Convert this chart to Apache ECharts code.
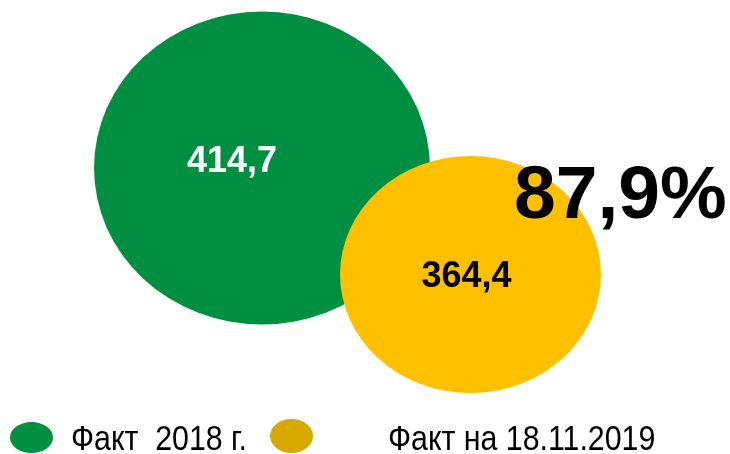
<!DOCTYPE html>
<html>
<head>
<meta charset="utf-8">
<script src="https://cdn.jsdelivr.net/npm/echarts@6/dist/echarts.min.js"></script>
<style>html,body{margin:0;padding:0;background:#fff}#c{width:730px;height:454px}</style>
</head>
<body>
<div id="c"></div>
<script>
// ---- data ----
const seriesNames = ['Факт  2018 г.', 'Факт на 18.11.2019'];
const values = [414.7, 364.4];

// ---- layout / style (not data) ----
const bubbleColors = ['#008F41', '#FFC000'];
const legendColors = ['#008F41', '#D6A800'];
const labelColors = ['#ffffff', '#000000'];
const bubbleCenters = [[262, 168], [470.5, 274.5]];
const bubbleSizes = [[336, 313], [261, 237]];
const labelOffsets = [[-30, -6], [-4, 3]];
const legendBoxes = [{left: 10, top: 422, h: 31}, {left: 270, top: 419, h: 34}];
const legendTextPos = [[71, 440], [388, 440]];

const ELLIPSE = 'path://M0,1A1,1 0 1,1 2,1A1,1 0 1,1 0,1Z';
const fmt = v => v.toFixed(1).replace('.', ',');
const pct = fmt(values[1] / values[0] * 100) + '%';
const SANS = '"Liberation Sans",Arial,sans-serif';

const chart = echarts.init(document.getElementById('c'));
chart.setOption({
  animation: false,
  grid: {left: 0, right: 0, top: 0, bottom: 0},
  xAxis: {type: 'value', min: 0, max: 730, show: false},
  yAxis: {type: 'value', min: 0, max: 454, inverse: true, show: false},
  legend: [0, 1].map(i => ({
    data: [{name: seriesNames[i], itemStyle: {color: legendColors[i]}}],
    left: legendBoxes[i].left,
    top: legendBoxes[i].top,
    padding: 0,
    icon: ELLIPSE,
    symbolKeepAspect: false,
    itemWidth: 43,
    itemHeight: legendBoxes[i].h,
    selectedMode: false,
    formatter: () => '',
    textStyle: {fontSize: 1}
  })),
  series: [0, 1].map(i => ({
    type: 'scatter',
    name: seriesNames[i],
    symbol: ELLIPSE,
    symbolSize: bubbleSizes[i],
    itemStyle: {color: bubbleColors[i], opacity: 1},
    z: 2 + i,
    label: {
      show: true,
      position: 'inside',
      offset: labelOffsets[i],
      formatter: p => fmt(p.value[2]),
      color: labelColors[i],
      fontSize: 36,
      fontWeight: 'bold',
      fontFamily: SANS
    },
    emphasis: {disabled: true},
    data: [[bubbleCenters[i][0], bubbleCenters[i][1], values[i]]]
  })),
  graphic: [{
    type: 'text',
    x: 514,
    y: 197,
    z: 10,
    style: {text: pct, fontSize: 75, fontWeight: 'bold', fontFamily: SANS, fill: '#000', verticalAlign: 'middle', align: 'left'}
  }].concat([0, 1].map(i => ({
    type: 'text',
    x: legendTextPos[i][0],
    y: legendTextPos[i][1],
    scaleX: 0.866,
    z: 10,
    style: {text: seriesNames[i], fontSize: 35, fontFamily: SANS, fill: '#000', verticalAlign: 'middle', align: 'left'}
  })))
});
</script>
</body>
</html>
